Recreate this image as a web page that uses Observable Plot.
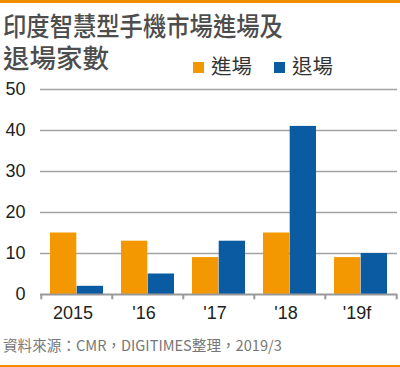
<!DOCTYPE html>
<html><head><meta charset="utf-8">
<script src="https://cdn.jsdelivr.net/npm/d3@7"></script>
<script src="https://cdn.jsdelivr.net/npm/@observablehq/plot@0.6"></script>
<style>
body{margin:0;background:#fff;}
#wrap{position:relative;width:400px;height:367px;overflow:hidden;background:#fff;font-family:"Liberation Sans",Arial,sans-serif;}
.band{position:absolute;left:0;width:400px;background:#f08c00;}
.title{position:absolute;left:3px;font-family:"Noto Sans CJK TC",sans-serif;font-weight:500;font-size:26.5px;line-height:30px;height:30px;color:#4d4d4d;white-space:nowrap;}
#t1{top:9.5px;transform:scaleX(0.88);transform-origin:0 0;}
#t2{top:41.5px;}
#legend{position:absolute;left:193px;top:53px;font-family:"Noto Sans CJK TC",sans-serif;font-size:20.5px;line-height:24px;color:#333;white-space:nowrap;}
#legend .item{display:inline-block;margin-right:22px;}
#legend .sw{display:inline-block;width:11px;height:11px;margin-right:7px;vertical-align:1px;}
#chart{position:absolute;left:0;top:78px;}
#caption{position:absolute;left:3px;top:336px;font-family:"Noto Sans CJK TC",sans-serif;font-size:14.6px;line-height:18px;color:#777;white-space:nowrap;}
</style></head><body>
<div id="wrap">
 <div class="band" style="top:0;height:3px"></div>
 <div class="title" id="t1">印度智慧型手機市場進場及</div>
 <div class="title" id="t2">退場家數</div>
 <div id="legend"></div>
 <div id="chart"></div>
 <div id="caption">資料來源：CMR，DIGITIMES整理，2019/3</div>
 <div class="band" style="top:365px;height:2px"></div>
</div>
<script>
const years = ["2015", "'16", "'17", "'18", "'19f"];
const seriesNames = ["進場", "退場"];
const entry = [15, 13, 9, 15, 9];
const exit = [2, 5, 13, 41, 10];
const yTicks = [0, 10, 20, 30, 40, 50];
const colors = ["#f39800", "#0b5ba3"];

const legend = document.getElementById("legend");
seriesNames.forEach((s, i) => {
  const it = document.createElement("span");
  it.className = "item";
  it.innerHTML = `<span class="sw" style="background:${colors[i]}"></span>${s}`;
  legend.appendChild(it);
});

const W = 400, H = 250, mL = 40, mR = 3;
const step = (W - mL - mR) / years.length;
const outer = 9, bw = (step - 2 * outer) / 2;
const entryData = years.map((y, i) => ({year: y, value: entry[i]}));
const exitData = years.map((y, i) => ({year: y, value: exit[i]}));

const chart = Plot.plot({
  width: W, height: H, marginLeft: mL, marginRight: mR, marginTop: 11, marginBottom: 34,
  style: {fontFamily: "Liberation Sans, Arial, sans-serif", fontSize: "18px", color: "#222", background: "transparent", overflow: "visible"},
  x: {domain: years, padding: 0, label: null},
  y: {domain: [0, 50], label: null},
  marks: [
    Plot.ruleY(yTicks.slice(1), {stroke: "#a3a3a3", strokeWidth: 1.6}),
    Plot.barY(entryData, {x: "year", y: "value", fill: colors[0], insetLeft: outer, insetRight: outer + bw}),
    Plot.barY(exitData, {x: "year", y: "value", fill: colors[1], insetLeft: outer + bw, insetRight: outer}),
    Plot.ruleY([0], {stroke: "#999", strokeWidth: 2}),
    Plot.ruleX(years, {x: d => d, y1: 0, y2: -1.3, dx: -step / 2, stroke: "#999", strokeWidth: 2}),
    Plot.ruleX([years[years.length - 1]], {x: d => d, y1: 0, y2: -1.3, dx: step / 2, stroke: "#999", strokeWidth: 2}),
    Plot.axisY({ticks: yTicks, tickSize: 0, tickPadding: 15, fontSize: 18, fill: "#222"}),
    Plot.axisX({tickSize: 0, tickPadding: 12, dx: -4, fontSize: 18, fill: "#222"})
  ]
});
document.getElementById("chart").appendChild(chart);
</script>
</body></html>
